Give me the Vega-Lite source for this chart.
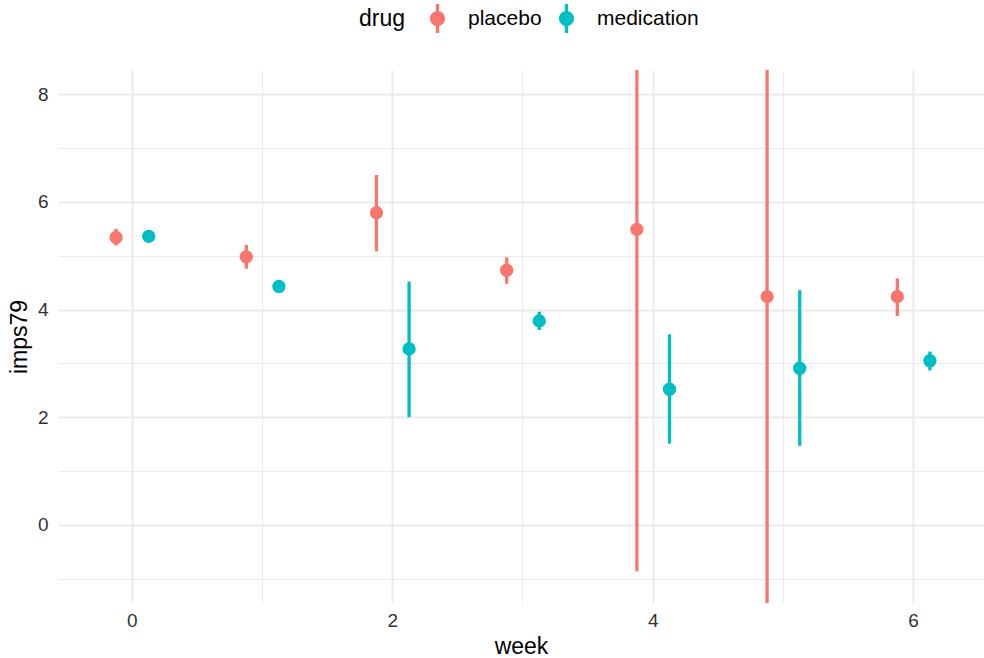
{
  "$schema": "https://vega.github.io/schema/vega-lite/v6.json",
  "width": 926,
  "height": 533,
  "autosize": {"type": "none"},
  "padding": {"left": 58, "top": 70, "right": 0, "bottom": 55},
  "background": "white",
  "config": {"view": {"stroke": null}, "font": "Liberation Sans"},
  "data": {"values": [
    {"week": 0, "drug": "placebo", "mean": 5.34, "lower": 5.19, "upper": 5.50},
    {"week": 0, "drug": "medication", "mean": 5.36, "lower": 5.28, "upper": 5.44},
    {"week": 1, "drug": "placebo", "mean": 4.98, "lower": 4.76, "upper": 5.20},
    {"week": 1, "drug": "medication", "mean": 4.43, "lower": 4.37, "upper": 4.49},
    {"week": 2, "drug": "placebo", "mean": 5.80, "lower": 5.08, "upper": 6.50},
    {"week": 2, "drug": "medication", "mean": 3.27, "lower": 2.00, "upper": 4.52},
    {"week": 3, "drug": "placebo", "mean": 4.73, "lower": 4.48, "upper": 4.97},
    {"week": 3, "drug": "medication", "mean": 3.79, "lower": 3.62, "upper": 3.96},
    {"week": 4, "drug": "placebo", "mean": 5.49, "lower": -0.86, "upper": 11.84},
    {"week": 4, "drug": "medication", "mean": 2.52, "lower": 1.51, "upper": 3.54},
    {"week": 5, "drug": "placebo", "mean": 4.24, "lower": -3.0, "upper": 11.5},
    {"week": 5, "drug": "medication", "mean": 2.91, "lower": 1.47, "upper": 4.36},
    {"week": 6, "drug": "placebo", "mean": 4.24, "lower": 3.88, "upper": 4.58},
    {"week": 6, "drug": "medication", "mean": 3.05, "lower": 2.87, "upper": 3.22}
  ]},
  "layer": [
    {
      "mark": {"type": "rule", "strokeWidth": 3.3, "clip": true},
      "encoding": {
        "x": {"field": "week", "type": "ordinal",
          "scale": {"type": "band", "domain": [0, 1, 2, 3, 4, 5, 6], "paddingInner": 0, "paddingOuter": 0.056, "align": 0.637},
          "axis": {"orient": "top", "values": [1, 3, 5], "bandPosition": 0.5, "grid": true, "gridColor": "#EBEBEB", "gridWidth": 1, "labels": false, "ticks": false, "domain": false, "title": null}},
        "xOffset": {"field": "drug", "type": "nominal",
          "scale": {"type": "band", "domain": ["placebo", "medication"], "paddingInner": 0, "paddingOuter": 0.997}},
        "y": {"field": "lower", "type": "quantitative",
          "scale": {"domain": [-1.45, 8.45], "nice": false, "zero": false},
          "axis": {"orient": "right", "values": [-1, 1, 3, 5, 7], "grid": true, "gridColor": "#EBEBEB", "gridWidth": 1, "labels": false, "ticks": false, "domain": false, "title": null}},
        "y2": {"field": "upper"},
        "color": {"field": "drug", "type": "nominal",
          "scale": {"domain": ["placebo", "medication"], "range": ["#F8766D", "#00BFC4"]}}
      }
    },
    {
      "mark": {"type": "point", "filled": true, "size": 177, "opacity": 1},
      "encoding": {
        "x": {"field": "week", "type": "ordinal",
          "scale": {"type": "band", "domain": [0, 1, 2, 3, 4, 5, 6], "paddingInner": 0, "paddingOuter": 0.056, "align": 0.637},
          "axis": {"orient": "bottom", "values": [0, 2, 4, 6], "bandPosition": 0.5, "labelAngle": 0, "grid": true, "gridColor": "#EBEBEB", "gridWidth": 2, "domain": false, "ticks": false, "tickSize": 0, "labelFontSize": 19, "labelColor": "#333333", "labelPadding": 8, "title": "week", "titleFontSize": 23, "titleFontWeight": "normal", "titleColor": "black", "titlePadding": 5}},
        "xOffset": {"field": "drug", "type": "nominal",
          "scale": {"type": "band", "domain": ["placebo", "medication"], "paddingInner": 0, "paddingOuter": 0.997}},
        "y": {"field": "mean", "type": "quantitative",
          "scale": {"domain": [-1.45, 8.45], "nice": false, "zero": false},
          "axis": {"orient": "left", "values": [0, 2, 4, 6, 8], "grid": true, "gridColor": "#EBEBEB", "gridWidth": 2, "domain": false, "ticks": false, "tickSize": 0, "labelFontSize": 19, "labelColor": "#333333", "labelPadding": 10, "title": "imps79", "titleFontSize": 23, "titleFontWeight": "normal", "titleColor": "black", "titlePadding": 6}},
        "color": {"field": "drug", "type": "nominal",
          "scale": {"domain": ["placebo", "medication"], "range": ["#F8766D", "#00BFC4"]},
          "legend": {"orient": "none", "legendX": 301, "legendY": -66, "direction": "horizontal", "title": "drug", "titleOrient": "left", "titleFontSize": 23, "titleFontWeight": "normal", "titleColor": "black", "titlePadding": 17, "labelFontSize": 21, "labelColor": "black", "labelOffset": 16, "columnPadding": 10, "symbolType": "M-0.114,-1L0.114,-1L0.114,1L-0.114,1Z M0.52,0A0.52,0.52,0,1,1,-0.52,0A0.52,0.52,0,1,1,0.52,0Z", "symbolSize": 841, "symbolStrokeWidth": 0, "symbolOpacity": 1}}
      }
    }
  ],
  "resolve": {"axis": {"x": "independent", "y": "independent"}}
}
